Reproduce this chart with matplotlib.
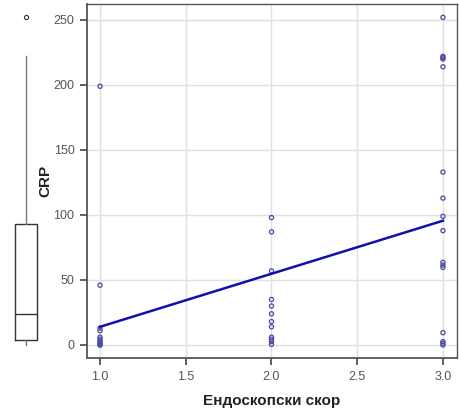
import numpy as np
import matplotlib
matplotlib.use("Agg")
from matplotlib import pyplot as plt

# endoscopic score groups and CRP values
score_1 = [199, 46, 13, 11, 6, 4.5, 3, 2, 1, 0, 0]
score_2 = [98, 87, 57, 35, 30, 24, 18, 14, 6, 4.4, 2.6, 0.5]
score_3 = [252, 222, 221, 220, 214, 133, 113, 99, 88, 63.6, 61.5, 59.7,
           9.5, 2.6, 1.3, 0]

# regression line as drawn
fit_x = [1.0, 3.0]
fit_y = [14, 95.6]

x_ticks = [1.0, 1.5, 2.0, 2.5, 3.0]
y_ticks = [0, 50, 100, 150, 200, 250]

x_vals = [1] * len(score_1) + [2] * len(score_2) + [3] * len(score_3)
crp = score_1 + score_2 + score_3

plt.rcParams['font.family'] = ['Liberation Sans', 'DejaVu Sans']

W, H = 459, 416
fig = plt.figure(figsize=(W / 100, H / 100), dpi=100)

ylim = (-10, 262.3)

# main scatter
ax = fig.add_axes([87 / W, 1 - 358 / H, 370 / W, 354 / H])
ax.set_xlim(0.924, 3.082)
ax.set_ylim(*ylim)
ax.grid(True, color='#e0e0e0', linewidth=1.0)
ax.set_axisbelow(True)
ax.scatter(x_vals, crp, s=9, facecolors='none', edgecolors='#4a4aa8',
           linewidths=0.9, zorder=3)
ax.plot(fit_x, fit_y, color='#1010b0', linewidth=1.8, zorder=4)

ax.set_xticks(x_ticks)
ax.set_xticklabels(['%.1f' % t for t in x_ticks])
ax.set_yticks(y_ticks)
ax.tick_params(axis='both', colors='#444444', labelcolor='#555555',
               labelsize=9, length=5, width=1.2, pad=4)
for s in ax.spines.values():
    s.set_color('#555555')
    s.set_linewidth(1.0)
ax.spines['left'].set_linewidth(1.3)
ax.spines['bottom'].set_linewidth(1.3)

ax.set_xlabel('Ендоскопски скор', fontsize=11, fontweight='bold',
              color='#222222', labelpad=8)
ax.set_ylabel('CRP', fontsize=11, fontweight='bold', color='#222222',
              labelpad=1)

# marginal box plot
bx = fig.add_axes([0, 1 - 358 / H, 52 / W, 354 / H])
bx.set_xlim(0, 1)
bx.set_ylim(*ylim)
bx.boxplot(crp, positions=[0.5], widths=0.404, whis=1.5,
           boxprops=dict(color='#333333', linewidth=1.0),
           medianprops=dict(color='#333333', linewidth=1.0),
           whiskerprops=dict(color='#777777', linewidth=1.0),
           capprops=dict(linewidth=0),
           flierprops=dict(marker='o', markersize=3, markerfacecolor='none',
                           markeredgecolor='#333333', markeredgewidth=0.8))
bx.axis('off')

fig.savefig('out.png', dpi=100)
